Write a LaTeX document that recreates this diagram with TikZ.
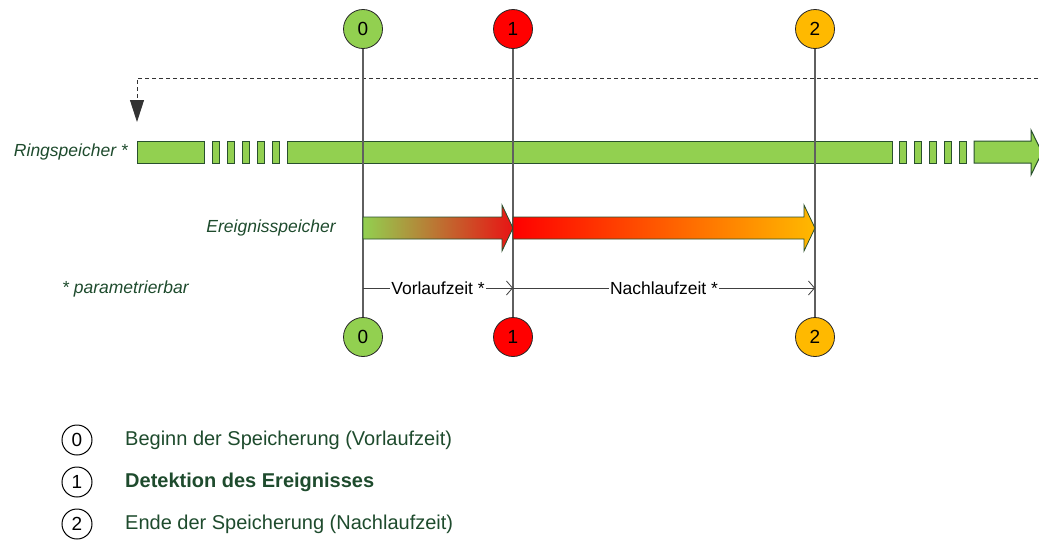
\documentclass[tikz,border=0pt]{standalone}
\usepackage{fontspec}
\setmainfont{Liberation Sans}
\usetikzlibrary{arrows.meta}

\definecolor{ringgreen}{RGB}{146,208,80}
\definecolor{edgegreen}{RGB}{40,80,45}
\definecolor{labelgreen}{RGB}{30,75,45}
\definecolor{evred}{RGB}{255,0,0}
\definecolor{evdeepred}{RGB}{232,20,20}
\definecolor{evorange}{RGB}{255,185,0}
\definecolor{guidegray}{RGB}{95,95,95}

\begin{document}
\begin{tikzpicture}[x=1pt,y=-1pt,
  marker/.style={circle, draw=black!85, line width=0.8pt, minimum size=39pt,
    inner sep=0pt, font=\fontsize{19}{19}\selectfont},
  legendmark/.style={circle, draw=black, line width=1pt, minimum size=30pt,
    inner sep=0pt, font=\fontsize{19}{19}\selectfont},
  seg/.style={fill=ringgreen, draw=edgegreen, line width=1pt},
  lbl/.style={inner sep=0pt, font=\fontsize{17.5}{20}\selectfont\itshape, text=labelgreen},
  legendtext/.style={inner sep=0pt, anchor=west, font=\fontsize{20}{24}\selectfont, text=labelgreen},
  guide/.style={draw=guidegray, line width=1.1pt},
  dimline/.style={draw=black!75, line width=0.8pt, -{Straight Barb[length=6pt,width=14pt]}},
  dimlabel/.style={fill=white, inner xsep=1pt, inner ysep=2pt, font=\fontsize{17.5}{20}\selectfont},
  evarrow/.style={draw=edgegreen, line width=0.8pt}
]
\useasboundingbox (0,0) rectangle (1039,549);

% event markers above and below the time axis
\node[marker, fill=ringgreen] (t0) at (363,29) {0};
\node[marker, fill=evred]     (t1) at (513,29) {1};
\node[marker, fill=evorange]  (t2) at (815,29) {2};
\node[marker, fill=ringgreen] (b0) at (363,337) {0};
\node[marker, fill=evred]     (b1) at (513,337) {1};
\node[marker, fill=evorange]  (b2) at (815,337) {2};

% ring buffer: wrap-around feedback
\coordinate (wrapstart) at (1045,78);
\coordinate (wrapcorner) at (137,78);
\coordinate (wrapend) at (137,122);
\draw[black!80, line width=0.9pt, dash pattern=on 4pt off 3pt,
      -{Triangle[length=22pt,width=14pt]}] (wrapstart) -- (wrapcorner) -- (wrapend);

% ring buffer segments
\draw[seg] (137,141) rectangle (204,163);
\foreach \xa in {212,227,242,257,272}
  \draw[seg] (\xa,141) rectangle ++(7.5,22);
\draw[seg] (287,141) rectangle (892,163);
\foreach \xa in {899,914,929,944,959}
  \draw[seg] (\xa,141) rectangle ++(7.5,22);
\draw[seg] (974,141) -- (1031,141) -- (1031,130) -- (1042,152.5)
  -- (1031,175) -- (1031,163) -- (974,163) -- cycle;

% vertical guides through the markers
\draw[guide] (t0) -- (b0);
\draw[guide] (t1) -- (b1);
\draw[guide] (t2) -- (b2);

% event buffer: pre-trigger and post-trigger parts
\shadedraw[evarrow, left color=ringgreen, right color=evdeepred]
  (363,217) -- (502,217) -- (502,205) -- (513,228) -- (502,251)
  -- (502,239) -- (363,239) -- cycle;
\shadedraw[evarrow, left color=evred, right color=evorange]
  (513,217) -- (804,217) -- (804,205) -- (815,228) -- (804,251)
  -- (804,239) -- (513,239) -- cycle;

% durations
\coordinate (d0) at (363,288);
\coordinate (d1) at (513,288);
\coordinate (d2) at (815,288);
\draw[dimline] (d0) -- node[dimlabel] {Vorlaufzeit *} (d1);
\draw[dimline] (d1) -- node[dimlabel] {Nachlaufzeit *} (d2);

% labels
\node[lbl, anchor=east] (ringlabel) at (128,152) {Ringspeicher *};
\node[lbl, anchor=east] (evlabel) at (336,228) {Ereignisspeicher};
\node[lbl, anchor=west] (paramnote) at (62,289) {* parametrierbar};

% legend
\node[legendmark] (l0) at (77,440) {0};
\node[legendmark] (l1) at (77,482) {1};
\node[legendmark] (l2) at (77,524) {2};
\node[legendtext] (lt0) at (125,440) {Beginn der Speicherung (Vorlaufzeit)};
\node[legendtext, font=\fontsize{20}{24}\selectfont\bfseries] (lt1) at (125,482) {Detektion des Ereignisses};
\node[legendtext] (lt2) at (125,524) {Ende der Speicherung (Nachlaufzeit)};
\end{tikzpicture}
\end{document}
